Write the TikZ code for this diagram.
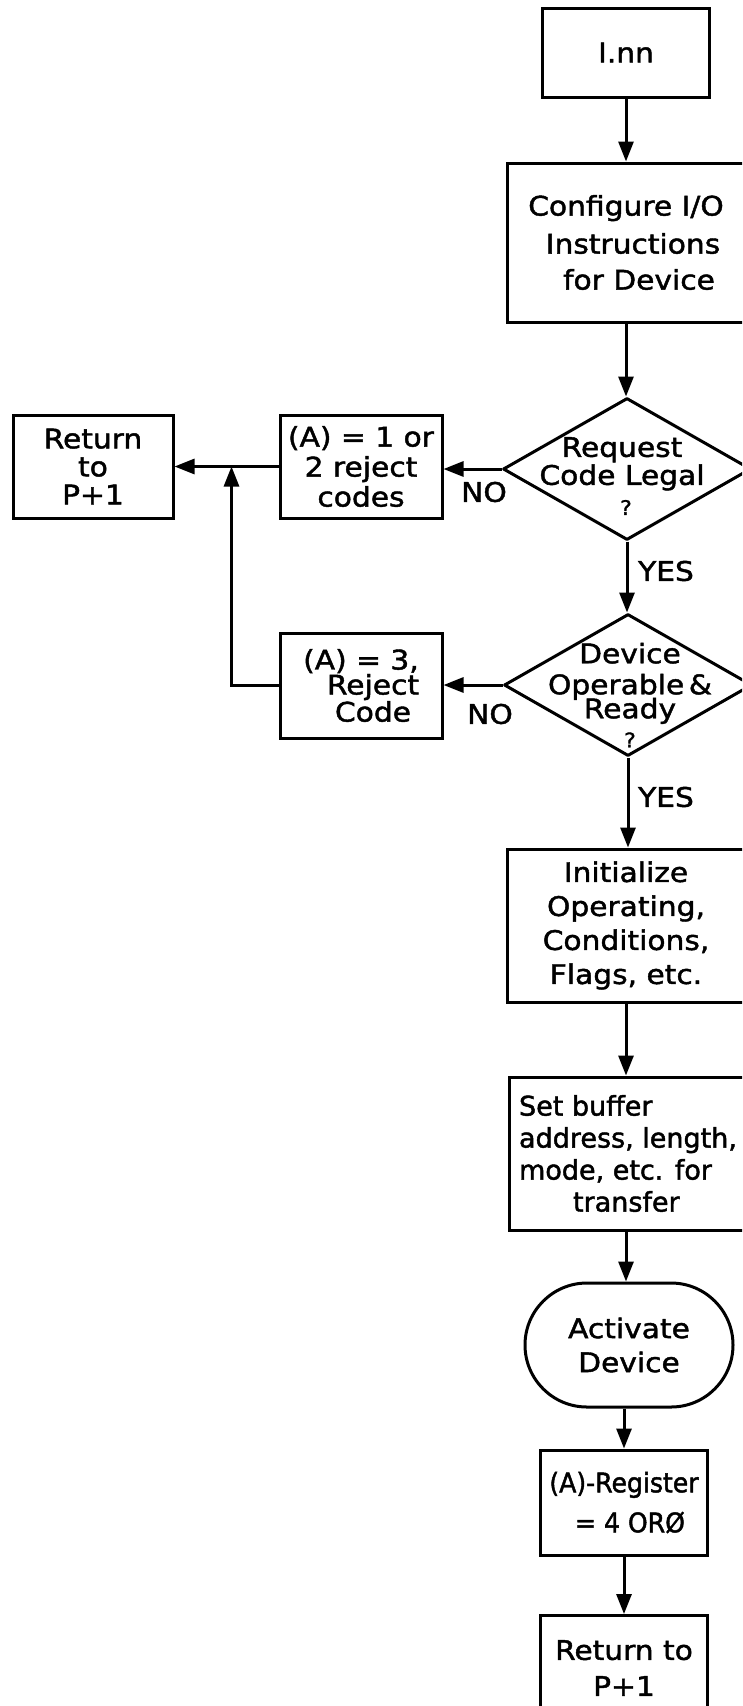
\documentclass[tikz,border=0pt]{standalone}
\usepackage{fontspec}
\setmainfont{DejaVu Sans}[FakeStretch=1.1,FakeBold=1.6]
\newfontfamily\narrowfont{DejaVu Sans}[FakeStretch=1.0,FakeBold=1.6]
\newfontfamily\tightfont{DejaVu Sans}[FakeStretch=0.93,FakeBold=1.6]
\usetikzlibrary{arrows.meta,shapes.geometric,shapes.misc}
\begin{document}
\begin{tikzpicture}[x=1pt,y=-1pt,
  lw/.style={line width=3pt},
  txtfont/.style={font=\fontsize{27}{33}\selectfont},
  box/.style={draw,lw,rectangle,line join=miter,inner sep=0pt,align=center,txtfont},
  dia/.style={draw,lw,diamond,inner sep=0pt,minimum width=248pt,minimum height=142pt,line join=round},
  txt/.style={inner sep=0pt,align=center,txtfont},
  arr/.style={lw,-{Triangle[length=20pt,width=15pt]}}
]
\clip (0,0) rectangle (742,1706);
\fill[white] (0,0) rectangle (742,1706);

% main spine
\node[box,minimum width=167pt,minimum height=89pt] (inn) at (626,52.5) {I.nn};
\node[box,minimum width=238pt,minimum height=159pt] (cfg) at (626,242.5)
  {Configure I/O\\[5pt]\hspace*{14pt}Instructions\\[3pt]\hspace*{26pt}for Device};
\node[dia] (d1) at (627,469) {};
\node[txt,font=\fontsize{27}{28}\selectfont] (d1t) at (622,476)
  {Request\\Code Legal\\[2pt]\hspace*{8pt}{\fontsize{20}{20}\selectfont ?}};
\node[dia] (d2) at (628,685) {};
\node[txt,font=\fontsize{27}{27}\selectfont] (d2t) at (630,695)
  {Device\\[4pt]Operable\,\&\\[-3pt]Ready\\[2pt]{\fontsize{20}{20}\selectfont ?}};
\node[box,minimum width=238pt,minimum height=153pt,font=\fontsize{27}{34}\selectfont] (init) at (626,925.5)
  {Initialize\\Operating,\\Conditions,\\Flags, etc.};
\node[box,minimum width=238pt,minimum height=153pt,align=left,font=\narrowfont\fontsize{27}{32}\selectfont] (setb) at (628,1153.5)
  {Set buffer\\address, length,\\mode, etc. for\\\hspace*{54pt}transfer};
\node[draw,lw,rounded rectangle,minimum width=208pt,minimum height=124pt,inner sep=0pt,align=center,font=\fontsize{27}{34}\selectfont] (act) at (629,1345)
  {Activate\\Device};
\node[box,minimum width=167pt,minimum height=105pt,font=\tightfont\fontsize{27}{40}\selectfont] (areg) at (624,1502.5)
  {(A)-Register\\[0pt]\hspace*{12pt}= 4 ORØ};
\node[box,minimum width=167pt,minimum height=105pt,font=\fontsize{27}{36}\selectfont] (ret2) at (624,1668)
  {Return to\\P+1};

% left side
\node[box,minimum width=162pt,minimum height=103pt,font=\fontsize{27}{30}\selectfont] (b1) at (361,466.5)
  {(A) = 1 or\\2 reject\\codes};
\node[box,minimum width=162pt,minimum height=105pt,font=\fontsize{27}{25}\selectfont] (b2) at (361,685.5)
  {(A) = 3,\\\hspace*{24pt}Reject\\\hspace*{24pt}Code};
\node[box,minimum width=160pt,minimum height=103pt,font=\fontsize{27}{28}\selectfont] (ret) at (93,466.5)
  {Return\\to\\P+1};

% labels
\node[txt] (no1) at (484,492) {NO};
\node[txt] (yes1) at (666,571) {YES};
\node[txt] (no2) at (490,714) {NO};
\node[txt] (yes2) at (666,797) {YES};

% connectors
\draw[arr] (inn.south) -- (cfg.north);
\draw[arr] (cfg.south) -- (cfg.south |- d1.north);
\draw[arr] (d1.south) -- (d1.south |- d2.north);
\draw[arr] (d2.south) -- (d2.south |- init.north);
\draw[arr] (init.south) -- (init.south |- setb.north);
\draw[arr] (init.south |- setb.south) -- (init.south |- act.north);
\draw[arr] (act.south -| areg.north) -- (areg.north);
\draw[arr] (areg.south) -- (ret2.north);

\draw[arr] (d1.west) -- (d1.west -| b1.east);
\draw[arr] (d2.west) -- (d2.west -| b2.east);
\path (b1.west) ++(-47,0) coordinate (j);
\draw[arr] (b1.west) -- (ret.east);
\draw[arr,line join=miter] (b2.west) -| (j);
\end{tikzpicture}
\end{document}
